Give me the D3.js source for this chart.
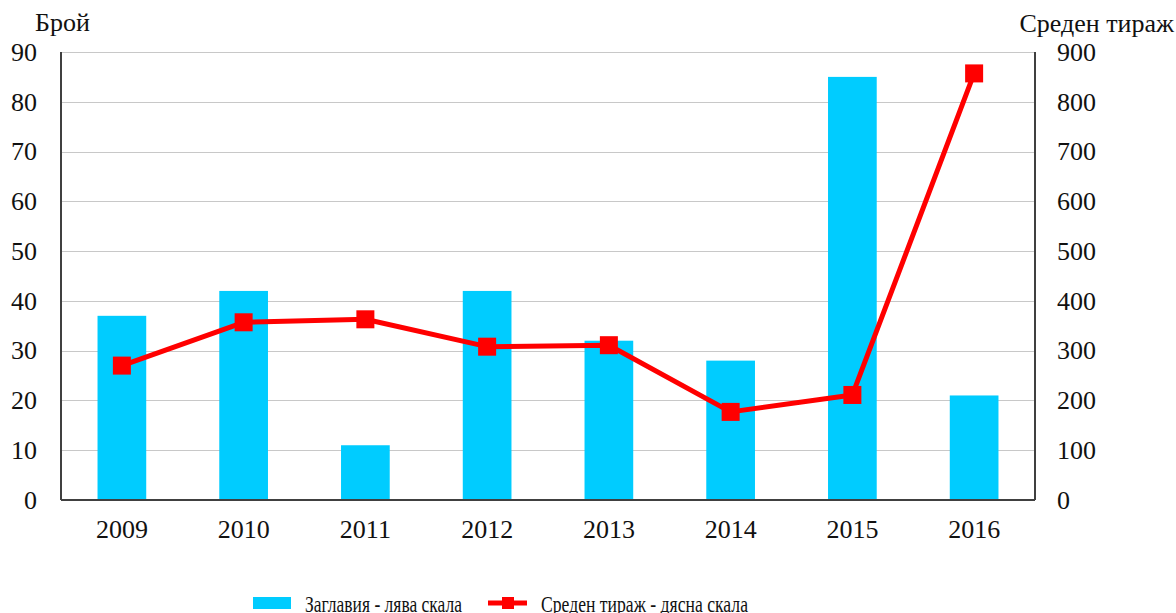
<!DOCTYPE html>
<html>
<head>
<meta charset="utf-8">
<script src="https://d3js.org/d3.v7.min.js"></script>
<style>
body { margin: 0; background: #fff; }
svg text { font-family: "Liberation Serif", "DejaVu Serif", serif; fill: #111; }
.grid line { stroke: #c8c8c8; stroke-width: 1; shape-rendering: crispEdges; }
.frame { stroke: #404040; stroke-width: 1.5; shape-rendering: crispEdges; }
</style>
</head>
<body>
<div id="canvas"></div>
<script>
// data
var years = ["2009", "2010", "2011", "2012", "2013", "2014", "2015", "2016"];
var titles = [37, 42, 11, 42, 32, 28, 85, 21];          // Заглавия - лява скала
var avgRun = [270, 357, 363, 308, 311, 177, 211, 857];  // Среден тираж - дясна скала
var leftTicks = [0, 10, 20, 30, 40, 50, 60, 70, 80, 90];
var rightTicks = [0, 100, 200, 300, 400, 500, 600, 700, 800, 900];

var width = 1176, height = 613,
    plotLeft = 61, plotRight = 1035, plotTop = 52, plotBottom = 500,
    fontSize = 26;

var svg = d3.select("#canvas").append("svg")
    .attr("width", width)
    .attr("height", height);

var x = d3.scaleBand().domain(years).range([plotLeft, plotRight])
    .paddingInner(0.6).paddingOuter(0.3);
var yL = d3.scaleLinear().domain([0, 90]).range([plotBottom, plotTop]);
var yR = d3.scaleLinear().domain([0, 900]).range([plotBottom, plotTop]);

// gridlines
svg.append("g").attr("class", "grid")
   .selectAll("line").data(leftTicks.slice(1)).enter().append("line")
   .attr("x1", plotLeft).attr("x2", plotRight)
   .attr("y1", function(d) { return Math.round(yL(d)) + 0.5; })
   .attr("y2", function(d) { return Math.round(yL(d)) + 0.5; });

// bars
svg.append("g").selectAll("rect").data(titles).enter().append("rect")
   .attr("x", function(d, i) { return x(years[i]); })
   .attr("width", x.bandwidth())
   .attr("y", function(d) { return yL(d); })
   .attr("height", function(d) { return yL(0) - yL(d); })
   .attr("fill", "#00ccff");

// frame: left, right, bottom
svg.append("line").attr("class", "frame")
   .attr("x1", plotLeft).attr("x2", plotLeft).attr("y1", plotTop).attr("y2", plotBottom);
svg.append("line").attr("class", "frame")
   .attr("x1", plotRight).attr("x2", plotRight).attr("y1", plotTop).attr("y2", plotBottom);
svg.append("line").attr("class", "frame")
   .attr("x1", plotLeft).attr("x2", plotRight).attr("y1", plotBottom).attr("y2", plotBottom);

// axes
var gL = svg.append("g").attr("transform", "translate(" + plotLeft + ",0)")
   .call(d3.axisLeft(yL).tickValues(leftTicks).tickSize(0).tickPadding(24));
var gR = svg.append("g").attr("transform", "translate(" + plotRight + ",0)")
   .call(d3.axisRight(yR).tickValues(rightTicks).tickSize(0).tickPadding(22));
var gB = svg.append("g").attr("transform", "translate(0," + plotBottom + ")")
   .call(d3.axisBottom(x).tickSize(0).tickPadding(20));

[gL, gR, gB].forEach(function(g) {
    g.select(".domain").remove();
    g.selectAll("text").attr("font-family", "Liberation Serif")
     .attr("font-size", fontSize).attr("fill", "#111");
});

// line + square markers
var cx = function(i) { return x(years[i]) + x.bandwidth() / 2; };
svg.append("path")
   .datum(avgRun)
   .attr("fill", "none")
   .attr("stroke", "#ff0000")
   .attr("stroke-width", 5)
   .attr("stroke-linejoin", "round")
   .attr("d", d3.line().x(function(d, i) { return cx(i); }).y(function(d) { return yR(d); }));

var ms = 18;
svg.append("g").selectAll("rect").data(avgRun).enter().append("rect")
   .attr("x", function(d, i) { return cx(i) - ms / 2; })
   .attr("y", function(d) { return yR(d) - ms / 2; })
   .attr("width", ms).attr("height", ms)
   .attr("fill", "#ff0000");

// axis titles
svg.append("text").attr("x", 35).attr("y", 31).attr("font-size", fontSize).text("Брой");
svg.append("text").attr("x", 1174).attr("y", 32).attr("font-size", fontSize)
   .attr("text-anchor", "end").text("Среден тираж");

// legend (text is horizontally squeezed in the reference)
var lg = svg.append("g");
lg.append("rect").attr("x", 253).attr("y", 597).attr("width", 38).attr("height", 12).attr("fill", "#00ccff");
lg.append("text").attr("x", 305).attr("y", 612).attr("font-size", 23)
  .attr("textLength", 157).attr("lengthAdjust", "spacingAndGlyphs")
  .text("Заглавия - лява скала");
lg.append("line").attr("x1", 488).attr("x2", 527).attr("y1", 603).attr("y2", 603)
  .attr("stroke", "#ff0000").attr("stroke-width", 5);
lg.append("rect").attr("x", 502).attr("y", 597).attr("width", 12).attr("height", 12).attr("fill", "#ff0000");
lg.append("text").attr("x", 541).attr("y", 612).attr("font-size", 23)
  .attr("textLength", 207).attr("lengthAdjust", "spacingAndGlyphs")
  .text("Среден тираж - дясна скала");
</script>
</body>
</html>
